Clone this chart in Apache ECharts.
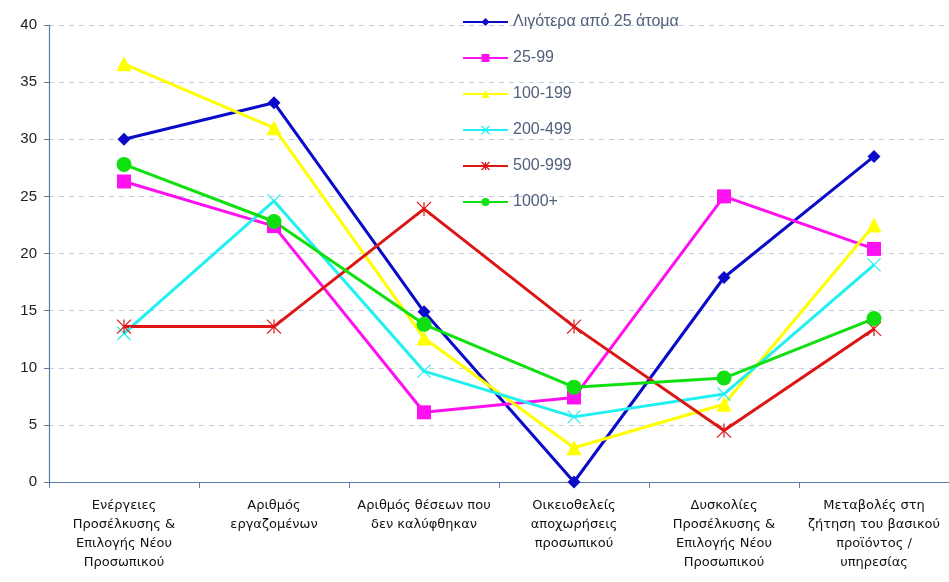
<!DOCTYPE html>
<html>
<head>
<meta charset="utf-8">
<script src="https://cdn.jsdelivr.net/npm/echarts@6/dist/echarts.min.js"></script>
<style>
  html, body { margin: 0; padding: 0; background: #ffffff; }
  #chart { width: 949px; height: 582px; }
</style>
</head>
<body>
<div id="chart"></div>
<script>
// Categories (x axis)
const categories = [
  'Ενέργειες\nΠροσέλκυσης &\nΕπιλογής Νέου\nΠροσωπικού',
  'Αριθμός\nεργαζομένων',
  'Αριθμός θέσεων που\nδεν καλύφθηκαν',
  'Οικειοθελείς\nαποχωρήσεις\nπροσωπικού',
  'Δυσκολίες\nΠροσέλκυσης &\nΕπιλογής Νέου\nΠροσωπικού',
  'Μεταβολές στη\nζήτηση του βασικού\nπροϊόντος /\nυπηρεσίας'
];

// Series names
const seriesNames = ['Λιγότερα από 25 άτομα', '25-99', '100-199', '200-499', '500-999', '1000+'];

// Series values (%)
const under25   = [30.0, 33.2, 14.9, 0.0, 17.9, 28.5];
const s25_99    = [26.3, 22.4, 6.1, 7.4, 25.0, 20.4];
const s100_199  = [36.6, 31.0, 12.6, 3.0, 6.8, 22.5];
const s200_499  = [13.0, 24.6, 9.7, 5.7, 7.7, 19.0];
const s500_999  = [13.6, 13.6, 23.9, 13.6, 4.5, 13.4];
const s1000plus = [27.8, 22.8, 13.8, 8.3, 9.1, 14.3];

// Y axis scale
const yMin = 0, yMax = 40, yStep = 5;

const valueSets = [under25, s25_99, s100_199, s200_499, s500_999, s1000plus];
const colors = ['#0a0ac8', '#ff10f0', '#ffff00', '#22f0f0', '#dd1515', '#10e010'];

const crossPath = 'path://M0,0L10,10M10,0L0,10';
const asteriskPath = 'path://M0,0L10,10M10,0L0,10M5,0L5,10';

const symbolDefs = [
  { symbol: 'diamond', size: 13, stroke: false },
  { symbol: 'rect', size: 14, stroke: false },
  { symbol: 'triangle', size: 15, stroke: false },
  { symbol: crossPath, size: 13, stroke: true },
  { symbol: asteriskPath, size: 14, stroke: true },
  { symbol: 'circle', size: 15, stroke: false }
];

function markerStyle(i) {
  return symbolDefs[i].stroke
    ? { color: 'rgba(0,0,0,0)', borderColor: colors[i], borderWidth: 1.2 }
    : { color: colors[i], borderWidth: 0 };
}

const series = valueSets.map((vals, i) => ({
  name: seriesNames[i],
  type: 'line',
  data: vals,
  symbol: symbolDefs[i].symbol,
  symbolSize: symbolDefs[i].size,
  showAllSymbol: true,
  lineStyle: { color: colors[i], width: 3 },
  itemStyle: markerStyle(i),
  emphasis: { disabled: true },
  animation: false
}));

const chart = echarts.init(document.getElementById('chart'), null, { renderer: 'canvas' });
chart.setOption({
  backgroundColor: '#ffffff',
  animation: false,
  grid: { left: 49, right: 0, top: 25, bottom: 100, containLabel: false },
  legend: {
    orient: 'vertical',
    left: 457,
    top: 9,
    itemWidth: 45,
    itemHeight: 10,
    itemGap: 20,
    textStyle: { color: '#50607a', fontFamily: 'Liberation Sans', fontSize: 16 },
    data: seriesNames.map((n, i) => ({ name: n, itemStyle: markerStyle(i) }))
  },
  xAxis: {
    type: 'category',
    data: categories,
    boundaryGap: true,
    axisLine: { show: true, lineStyle: { color: '#5a78a8', width: 1.2 } },
    axisTick: { show: true, length: 6, inside: false, lineStyle: { color: '#5a78a8' } },
    axisLabel: {
      interval: 0,
      margin: 14,
      color: '#111111',
      fontFamily: 'DejaVu Sans',
      fontSize: 13,
      lineHeight: 19,
      align: 'center'
    },
    splitLine: { show: false }
  },
  yAxis: {
    type: 'value',
    min: yMin,
    max: yMax,
    interval: yStep,
    axisLine: { show: true, lineStyle: { color: '#5a78a8', width: 1.2 } },
    axisTick: { show: true, length: 5, lineStyle: { color: '#5a78a8' } },
    axisLabel: {
      margin: 12,
      color: '#222222',
      fontFamily: 'Liberation Sans',
      fontSize: 15
    },
    splitLine: { show: true, lineStyle: { color: '#c4cce0', type: [5, 5], width: 1 } }
  },
  series: series
});
</script>
</body>
</html>
